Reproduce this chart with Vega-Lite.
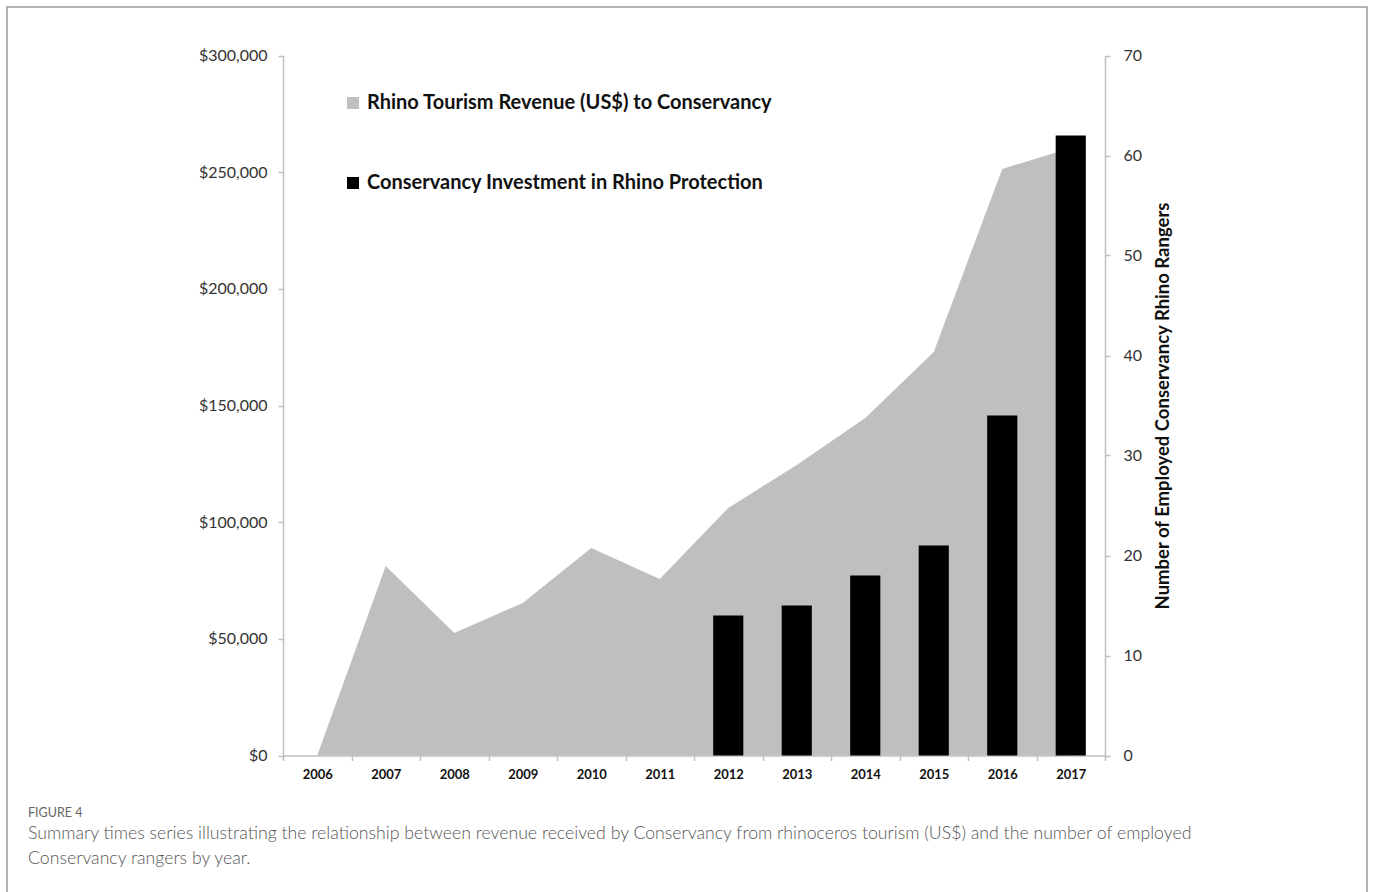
{
  "$schema": "https://vega.github.io/schema/vega-lite/v6.json",
  "width": 1360,
  "height": 890,
  "autosize": {"type": "none"},
  "padding": {"left": 7, "top": 7, "right": 6, "bottom": 0},
  "background": "white",
  "config": {
    "view": {"stroke": "#9a9a9a", "strokeWidth": 1.5},
    "font": "Lato",
    "axis": {"domainColor": "#bfbfbf", "domainWidth": 1.5, "tickColor": "#bfbfbf", "tickWidth": 1.5, "tickSize": 5, "grid": false}
  },
  "title": {
    "text": "FIGURE 4",
    "subtitle": [
      "Summary times series illustrating the relationship between revenue received by Conservancy from rhinoceros tourism (US$) and the number of employed",
      "Conservancy rangers by year."
    ],
    "orient": "bottom",
    "anchor": "start",
    "frame": "group",
    "dx": 21,
    "dy": -90,
    "offset": 0,
    "font": "Lato",
    "fontSize": 12.5,
    "fontWeight": "normal",
    "color": "#666666",
    "subtitleFont": "Lato",
    "subtitleFontSize": 17.7,
    "subtitleFontWeight": 300,
    "subtitleColor": "#555555",
    "subtitleLineHeight": 25,
    "subtitlePadding": 5
  },
  "data": {
    "values": [
      {"year": "2006", "revenue": 0, "rangers": null},
      {"year": "2007", "revenue": 81200, "rangers": null},
      {"year": "2008", "revenue": 52500, "rangers": null},
      {"year": "2009", "revenue": 65400, "rangers": null},
      {"year": "2010", "revenue": 88900, "rangers": null},
      {"year": "2011", "revenue": 75600, "rangers": null},
      {"year": "2012", "revenue": 106100, "rangers": 14},
      {"year": "2013", "revenue": 124500, "rangers": 15},
      {"year": "2014", "revenue": 144600, "rangers": 18},
      {"year": "2015", "revenue": 172900, "rangers": 21},
      {"year": "2016", "revenue": 251400, "rangers": 34},
      {"year": "2017", "revenue": 260400, "rangers": 62}
    ]
  },
  "encoding": {
    "x": {
      "field": "year",
      "type": "ordinal",
      "scale": {"paddingInner": 0, "paddingOuter": 0, "range": [276, 1098]},
      "axis": {
        "title": null,
        "offset": -141.5,
        "labelAngle": 0,
        "tickBand": "extent",
        "labelFont": "Lato",
        "labelFontSize": 13,
        "labelFontWeight": "bold",
        "labelColor": "#111111",
        "labelPadding": 8
      }
    }
  },
  "layer": [
    {
      "mark": {"type": "area", "opacity": 1},
      "encoding": {
        "y": {
          "field": "revenue",
          "type": "quantitative",
          "scale": {"domain": [0, 300000], "nice": false, "range": [748.5, 48.5]},
          "axis": {
            "title": null,
            "orient": "left",
            "offset": -276,
            "values": [0, 50000, 100000, 150000, 200000, 250000, 300000],
            "format": "$,d",
            "labelFontSize": 16,
            "labelColor": "#333333",
            "labelPadding": 11
          }
        },
        "color": {
          "datum": "Rhino Tourism Revenue (US$) to Conservancy",
          "scale": {
            "domain": ["Rhino Tourism Revenue (US$) to Conservancy", "Conservancy Investment in Rhino Protection"],
            "range": ["#bfbfbf", "#000000"]
          },
          "legend": {
            "title": null,
            "orient": "none",
            "legendX": 336,
            "legendY": 86,
            "padding": 0,
            "symbolType": "square",
            "symbolSize": 144,
            "symbolStrokeWidth": 0,
            "symbolOpacity": 1,
            "labelFont": "Lato",
            "labelFontSize": 20,
            "labelFontWeight": "bold",
            "labelColor": "#111111",
            "labelOffset": 4,
            "labelLimit": 0,
            "rowPadding": 60
          }
        }
      }
    },
    {
      "mark": {"type": "bar", "width": {"band": 0.44}},
      "encoding": {
        "y": {
          "field": "rangers",
          "type": "quantitative",
          "scale": {"domain": [0, 70], "nice": false, "range": [748.5, 48.5]},
          "axis": {
            "orient": "right",
            "offset": -262,
            "title": "Number of Employed Conservancy Rhino  Rangers",
            "values": [0, 10, 20, 30, 40, 50, 60, 70],
            "labelFontSize": 16,
            "labelColor": "#333333",
            "labelPadding": 13,
            "titleAngle": 270,
            "titleBaseline": "top",
            "titleFontSize": 18.5,
            "titleFontWeight": "bold",
            "titleColor": "#111111",
            "titlePadding": 12
          }
        },
        "color": {"datum": "Conservancy Investment in Rhino Protection"}
      }
    }
  ],
  "resolve": {"scale": {"y": "independent"}}
}
